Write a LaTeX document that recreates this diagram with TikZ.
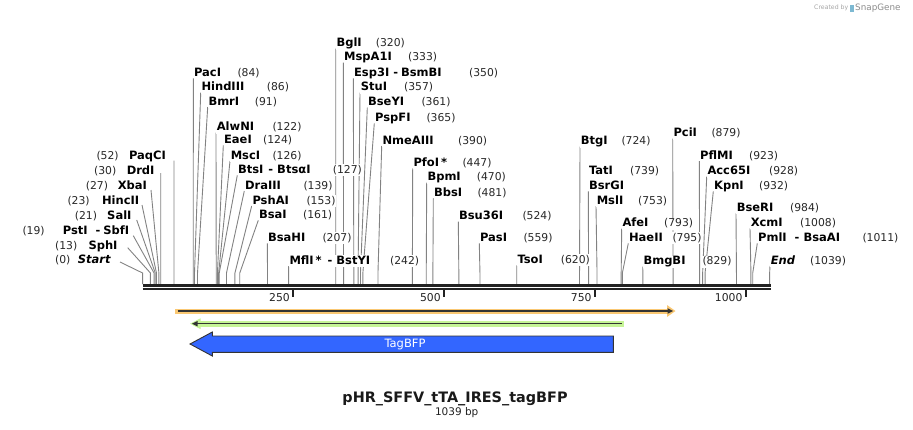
\documentclass[tikz,border=0pt]{standalone}
\usepackage{fontspec}
\setmainfont{DejaVu Sans}
\pgfdeclarelayer{bg}
\pgfsetlayers{bg,main}
\definecolor{cutgray}{RGB}{130,130,130}
\definecolor{bardark}{RGB}{34,34,34}
\definecolor{featorange}{RGB}{250,200,115}
\definecolor{featgreen}{RGB}{198,245,150}
\definecolor{featblue}{RGB}{51,102,255}
\definecolor{featline}{RGB}{51,51,51}
\definecolor{numgray}{RGB}{40,40,40}
\newcommand{\bpx}[1]{142.6+0.6035*#1}
\newcommand{\nm}[1]{{\fontsize{11.5}{13}\selectfont\bfseries #1}}
\tikzset{
  lbl/.style={font=\fontsize{10.8}{13}\selectfont, inner sep=0.6pt, fill=white,
    text height=8.6pt, text depth=2.2pt, anchor=base west},
  numlbl/.style={lbl, text=numgray},
  cutline/.style={draw=cutgray, line width=0.9pt},
}
% right-side label: id, name, namex, yc, num, numx, bp
\newcommand{\rsite}[7]{%
  \begin{pgfonlayer}{bg}\draw[cutline] (#3,#4+6) -- ({\bpx{#7}},273) -- ({\bpx{#7}},284);\end{pgfonlayer}
  \node[lbl] (#1n) at (#3,#4+4) {\nm{#2}};
  \node[numlbl] (#1c) at (#6,#4+4) {#5};}
% left-side label: id, num, numx, name, name east x, yc, bp, startx, starty
\newcommand{\lsite}[9]{%
  \begin{pgfonlayer}{bg}\draw[cutline] (#8,#9) -- ({\bpx{#7}},273) -- ({\bpx{#7}},284);\end{pgfonlayer}
  \node[numlbl] (#1c) at (#3,#6+4) {#2};
  \node[lbl,anchor=base east] (#1n) at (#5,#6+4) {\nm{#4}};}
\begin{document}
\begin{tikzpicture}[x=1pt,y=-1pt]
\useasboundingbox (0,0) rectangle (913,429);

% left labels
\lsite{st}{(0)}{54.3}{\textit{Start}}{111.7}{259}{0}{120}{262}
\lsite{sph}{(13)}{54.3}{SphI}{118.3}{245.3}{13}{127.7}{247.7}
\lsite{pst}{(19)}{21.7}{PstI\hspace{8pt}-\hspace{3pt}SbfI}{130}{230}{19}{133.3}{235.7}
\lsite{sal}{(21)}{74}{SalI}{132.3}{215}{21}{136.7}{220}
\lsite{hinc}{(23)}{66.7}{HincII}{140}{200.7}{23}{142}{205}
\lsite{xba}{(27)}{85}{XbaI}{147.7}{185}{27}{151}{190}
\lsite{drd}{(30)}{93.3}{DrdI}{155.3}{170}{30}{160.7}{173}
\lsite{paq}{(52)}{95.7}{PaqCI}{166.7}{155}{52}{174}{160.7}

% right labels
\rsite{pac}{PacI}{193.3}{72.3}{(84)}{236.7}{84}
\rsite{hind}{HindIII}{200.7}{86.7}{(86)}{266}{86}
\rsite{bmr}{BmrI}{207.7}{101}{(91)}{254}{91}
\rsite{alw}{AlwNI}{216}{126.7}{(122)}{271.7}{122}
\rsite{eae}{EaeI}{223.3}{139.3}{(124)}{262.3}{124}
\rsite{msc}{MscI}{230}{155}{(126)}{271.7}{126}
\rsite{bts}{BtsI\hspace{5pt}-\hspace{4pt}BtsαI}{237.3}{169.3}{(127)}{332}{127}
\rsite{dra}{DraIII}{244.3}{185}{(139)}{302.7}{139}
\rsite{psh}{PshAI}{251.7}{200}{(153)}{305.7}{153}
\rsite{bsa}{BsaI}{258.3}{214.3}{(161)}{302.3}{161}
\rsite{bsah}{BsaHI}{267.3}{237.3}{(207)}{321.7}{207}
\rsite{mfl}{MflI\,*\hspace{6pt}-\hspace{4pt}BstYI}{288.7}{260}{(242)}{389.3}{242}
\rsite{bgl}{BglI}{335.7}{42.7}{(320)}{375}{320}
\rsite{mspa}{MspA1I}{343.3}{56.7}{(333)}{407.3}{333}
\rsite{esp}{Esp3I\hspace{4pt}-\hspace{3pt}BsmBI}{353.3}{72.3}{(350)}{468.3}{350}
\rsite{stu}{StuI}{360}{86.7}{(357)}{403.3}{357}
\rsite{bsey}{BseYI}{367.3}{101.7}{(361)}{420.7}{361}
\rsite{pspf}{PspFI}{374.3}{117.3}{(365)}{425.7}{365}
\rsite{nme}{NmeAIII}{381.7}{140}{(390)}{457.3}{390}
\rsite{pfo}{PfoI\,*}{412.7}{162.3}{(447)}{461.7}{447}
\rsite{bpm}{BpmI}{426.7}{176.7}{(470)}{476}{470}
\rsite{bbs}{BbsI}{433.3}{192.3}{(481)}{476.7}{481}
\rsite{bsu}{Bsu36I}{458.3}{215.7}{(524)}{521.7}{524}
\rsite{pas}{PasI}{479.3}{237.3}{(559)}{522.7}{559}
\rsite{tso}{TsoI}{516.7}{259.3}{(620)}{560}{620}
\rsite{btg}{BtgI}{580}{140.7}{(724)}{620.7}{724}
% TatI / BsrGI share one line
\begin{pgfonlayer}{bg}\draw[cutline] (588.3,191.3) -- ({\bpx{739}},273) -- ({\bpx{739}},284);\end{pgfonlayer}
\node[lbl] (tatn) at (588.3,174.7) {\nm{TatI}};
\node[numlbl] (tatc) at (629.3,174.7) {(739)};
\node[lbl] (bsrgn) at (588.3,189.3) {\nm{BsrGI}};
\rsite{msl}{MslI}{596}{200}{(753)}{637.3}{753}
\rsite{afe}{AfeI}{621.7}{222.7}{(793)}{663.3}{793}
\rsite{hae}{HaeII}{628.3}{237.3}{(795)}{671.7}{795}
\rsite{bmg}{BmgBI}{642.7}{260.7}{(829)}{701.7}{829}
\rsite{pci}{PciI}{672.7}{132.7}{(879)}{710.7}{879}
\rsite{pflm}{PflMI}{699.3}{155}{(923)}{748.3}{923}
\rsite{acc}{Acc65I}{706.7}{170.7}{(928)}{768.3}{928}
\rsite{kpn}{KpnI}{713.3}{185.3}{(932)}{758.3}{932}
\rsite{bser}{BseRI}{736}{207.3}{(984)}{789.3}{984}
\rsite{xcm}{XcmI}{750}{222.3}{(1008)}{799.3}{1008}
\rsite{pml}{PmlI\hspace{8pt}-\hspace{4pt}BsaAI}{757.3}{237.3}{(1011)}{861.7}{1011}
\rsite{end}{\textit{End}}{770}{260}{(1039)}{809.3}{1039}

% sequence bar
\draw[bardark, line width=2.7pt] (142.6,285.3) -- (770.5,285.3);
\draw[bardark, line width=2pt] (142.6,289) -- (770.5,289);
\foreach \t in {250,500,750,1000} {
  \draw[bardark, line width=2pt] ({\bpx{\t}},289.5) -- ({\bpx{\t}},297);
  \node[font=\fontsize{10.8}{13}\selectfont, text=bardark, anchor=base east, inner sep=0pt] (tick\t) at ({\bpx{\t}-3.5},301) {\t};
}

% orange feature (forward)
\fill[featorange] (175,308.5) rectangle (669,313.5);
\fill[featorange] (667,305) -- (675.5,311) -- (667,317) -- cycle;
\draw[featline, line width=1.3pt] (177.5,311) -- (669,311);
\fill[featline] (667.5,308.2) -- (673,311) -- (667.5,313.8) -- cycle;

% green feature (reverse)
\fill[featgreen] (199,321) rectangle (624,326.5);
\fill[featgreen] (200.5,318.3) -- (190,323.7) -- (200.5,329.1) -- cycle;
\draw[featline, line width=1.3pt] (195,323.7) -- (622,323.7);
\fill[featline] (197.5,321) -- (192,323.7) -- (197.5,326.4) -- cycle;

% TagBFP
\draw[featline, line width=0.9pt, fill=featblue] (613.3,336) -- (212.3,336) -- (212.3,332) -- (190,344) -- (212.3,356) -- (212.3,352.3) -- (613.3,352.3) -- cycle;
\node[font=\fontsize{11.5}{13}\selectfont, text=white] (tagbfp) at (405,344) {TagBFP};

% title
\node[font=\fontsize{14.4}{16}\selectfont\bfseries, text=black!90] (title) at (455,398.5) {pHR\_SFFV\_tTA\_IRES\_tagBFP};
\node[font=\fontsize{10.5}{12}\selectfont, text=bardark] (size) at (456.7,413) {1039 bp};

% credit
\node[font=\fontsize{6.2}{7}\selectfont, text=black!35, anchor=east, inner sep=0pt] (credby) at (848.5,8) {Created by};
\fill[black!30!cyan!60] (850.3,4.5) rectangle (853.6,12) ;
\node[font=\fontsize{8.8}{10}\selectfont, text=black!45, anchor=west, inner sep=0pt] (sg) at (855,8) {SnapGene};
\end{tikzpicture}
\end{document}
